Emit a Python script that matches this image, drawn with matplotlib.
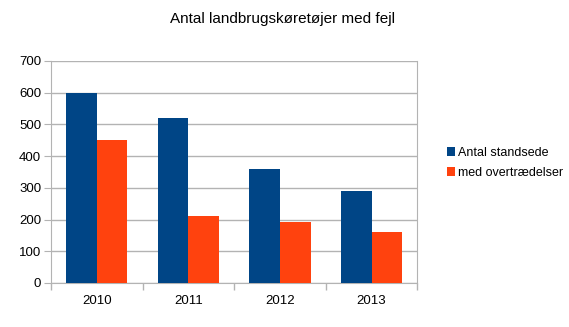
import numpy as np
import matplotlib.pyplot as plt

plt.rcParams['font.family'] = ['Liberation Sans', 'DejaVu Sans']

years = ['2010', '2011', '2012', '2013']
standsede = [600, 520, 360, 291]
overtraedelser = [450, 212, 193, 161]

blue = '#004586'
orange = '#ff420e'
grid = '#b3b3b3'

fig = plt.figure(figsize=(5.69, 3.27), dpi=100)
ax = fig.add_axes([0.0896, 0.1346, 0.644, 0.679])

x = np.arange(len(years))
w = 1 / 3
ax.bar(x - w / 2, standsede, w, color=blue, label='Antal standsede', zorder=3)
ax.bar(x + w / 2, overtraedelser, w, color=orange, label='med overtrædelser', zorder=3)

ax.set_xlim(-0.5, len(years) - 0.5)
ax.set_ylim(0, 700)
ax.set_yticks(range(0, 701, 100))
ax.set_xticks(x)
ax.set_xticklabels(years)
ax.set_xticks(np.arange(-0.5, len(years), 1), minor=True)
ax.tick_params(axis='x', which='major', length=0, labelsize=9.5, pad=8.5)
ax.tick_params(axis='x', which='minor', length=5, color=grid, width=1)
ax.tick_params(axis='y', length=5, color=grid, labelsize=9.5, pad=2)

ax.yaxis.grid(True, color=grid, linewidth=1, zorder=0)
for side in ['left', 'bottom', 'right']:
    ax.spines[side].set_color(grid)
ax.spines['top'].set_visible(False)

fig.suptitle('Antal landbrugskøretøjer med fejl', x=0.497, y=0.962, fontsize=11)

fig.legend(loc='center left', bbox_to_anchor=(0.776, 0.502), frameon=False,
           fontsize=9, handlelength=0.7, handleheight=0.7, handletextpad=0.25,
           labelspacing=0.6, borderaxespad=0)

fig.savefig('out.png', dpi=100)
